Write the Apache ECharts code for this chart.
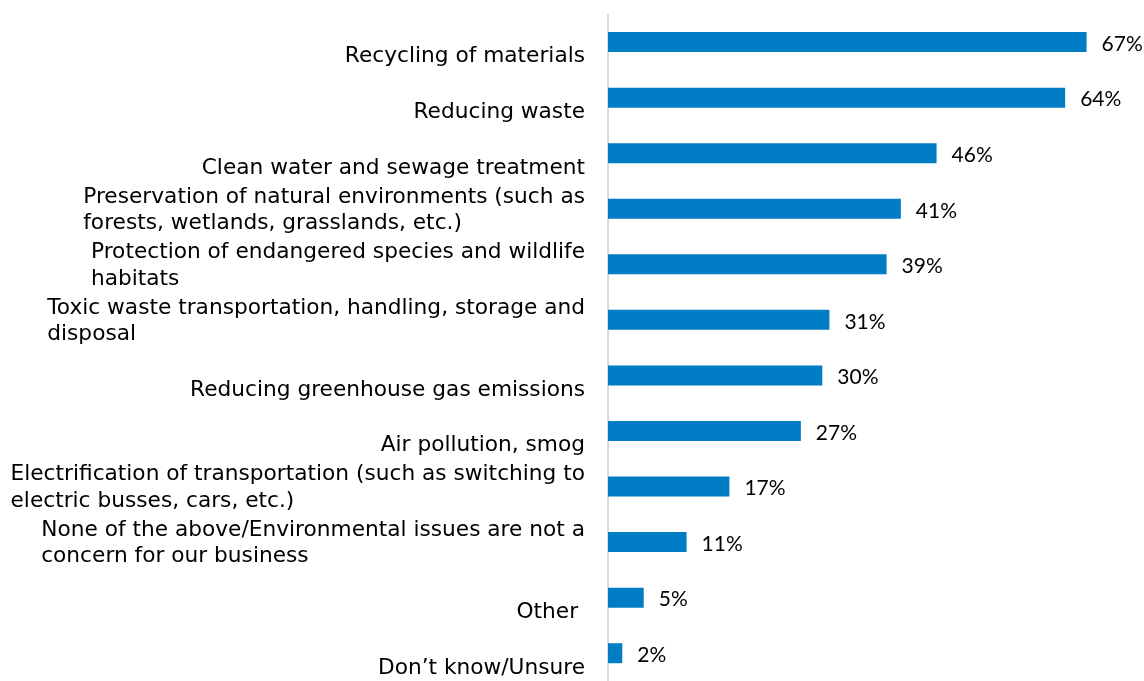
<!DOCTYPE html>
<html><head><meta charset="utf-8">
<script src="https://cdn.jsdelivr.net/npm/echarts@6/dist/echarts.min.js"></script>
<style>html,body{margin:0;padding:0;background:#fff}#c{width:1144px;height:681px}</style>
</head><body><div id="c"></div>
<script>
const categories = [
  "Recycling of materials",
  "Reducing waste",
  "Clean water and sewage treatment",
  "Preservation of natural environments (such as\nforests, wetlands, grasslands, etc.)",
  "Protection of endangered species and wildlife\nhabitats",
  "Toxic waste transportation, handling, storage and\ndisposal",
  "Reducing greenhouse gas emissions",
  "Air pollution, smog",
  "Electrification of transportation (such as switching to\nelectric busses, cars, etc.)",
  "None of the above/Environmental issues are not a\nconcern for our business",
  "Other ",
  "Don’t know/Unsure"
];
const values = [67, 64, 46, 41, 39, 31, 30, 27, 17, 11, 5, 2];

const LABEL_FONT = 'DejaVu Sans';
const chart = echarts.init(document.getElementById('c'), null, {renderer: 'canvas'});
chart.setOption({
  animation: false,
  backgroundColor: '#ffffff',
  grid: {left: 608, top: 14.3, height: 672, width: 500, containLabel: false},
  xAxis: {type: 'value', min: 0, max: 70, show: false},
  yAxis: {
    type: 'category', inverse: true, data: categories,
    axisLine: {show: true, lineStyle: {color: '#d9d9d9', width: 2}},
    axisTick: {show: false},
    splitLine: {show: false},
    axisLabel: {
      interval: 0, margin: 23, align: 'right',
      fontFamily: LABEL_FONT, fontSize: 21.7, lineHeight: 26.5, color: '#000',
      padding: [3, 0, 0, 0],
      formatter: function (v) {
        const lines = v.split('\n');
        let s = lines.map(l => '{l|' + l + '}').join('\n');
        if (lines.length === 1) s = '{l| }\n' + s;
        return s;
      },
      rich: {l: {fontFamily: LABEL_FONT, fontSize: 21.7, lineHeight: 26.5, color: '#000', align: 'left'}}
    }
  },
  series: [{
    type: 'bar', data: values, barWidth: 20,
    itemStyle: {color: '#007dc5'},
    label: {show: true, position: 'right', distance: 15, formatter: '{c}%', offset: [0, 2],
      fontFamily: 'Lato', fontSize: 21, color: '#000'}
  }]
});
</script></body></html>
